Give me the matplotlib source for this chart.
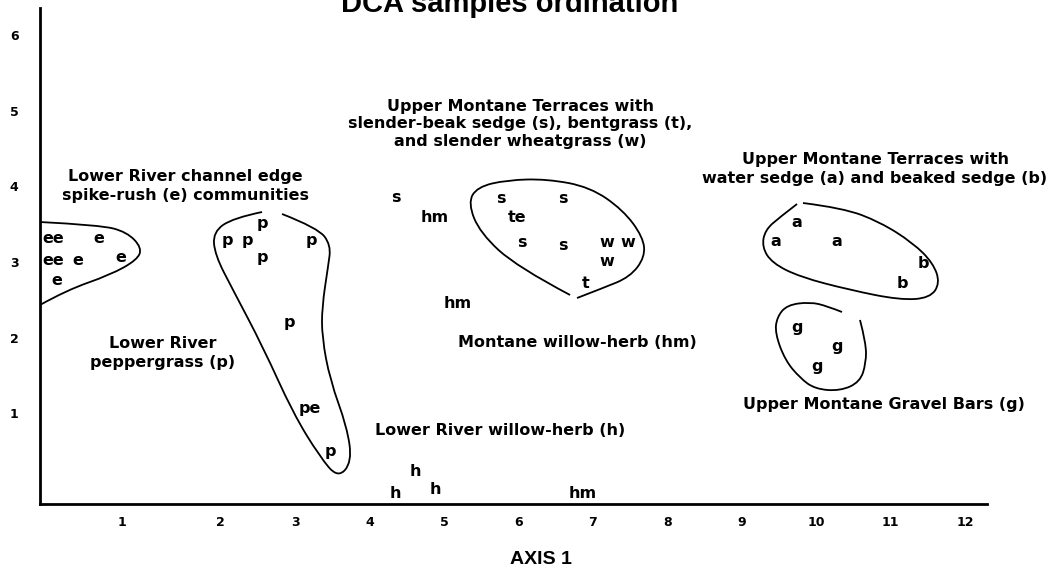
import matplotlib
matplotlib.use("Agg")
import matplotlib.pyplot as plt
from matplotlib.path import Path
from matplotlib.patches import PathPatch

# ---------------- data (axis units) ----------------
title = "DCA samples ordination"
x_label = "AXIS 1"
x_tick_pos = [0.67, 2, 3, 4, 5, 6, 7, 8, 9, 10, 11, 12]
x_tick_labels = ["1", "2", "3", "4", "5", "6", "7", "8", "9", "10", "11", "12"]
y_tick_pos = [1, 2, 3, 4, 5, 6]
y_tick_labels = ["1", "2", "3", "4", "5", "6"]

# sample codes and DCA scores
e_codes = ["ee", "e", "ee", "e", "e", "e"]
e_x = [-0.255, 0.363, -0.255, 0.081, 0.659, -0.202]
e_y = [3.303, 3.303, 3.025, 3.012, 3.052, 2.748]

p_codes = ["p", "p", "p", "p", "p", "p", "pe", "p"]
p_x = [2.554, 2.083, 2.352, 3.212, 2.554, 2.917, 3.199, 3.468]
p_y = [3.501, 3.289, 3.289, 3.289, 3.052, 2.193, 1.070, 0.502]

stw_codes = ["s", "hm", "s", "s", "te", "s", "s", "w", "w", "w", "t", "hm"]
stw_x = [4.355, 4.879, 5.766, 6.599, 5.981, 6.048, 6.599, 7.191, 7.473, 7.191, 6.909, 5.188]
stw_y = [3.857, 3.580, 3.844, 3.844, 3.580, 3.250, 3.223, 3.250, 3.250, 2.999, 2.721, 2.444]

ab_codes = ["a", "a", "a", "b", "b"]
ab_x = [9.745, 9.462, 10.282, 11.438, 11.156]
ab_y = [3.527, 3.263, 3.263, 2.985, 2.721]

g_codes = ["g", "g", "g"]
g_x = [9.745, 10.282, 10.013]
g_y = [2.127, 1.876, 1.612]

h_codes = ["h", "h", "h", "hm"]
h_x = [4.610, 4.341, 4.879, 6.868]
h_y = [0.225, -0.053, -0.013, -0.053]

# community outlines (hand-drawn hulls), axis units
e_hull_x = [-0.43, 0.376, 0.739, 0.941, 0.874, 0.511, -0.067, -0.43]
e_hull_y = [3.527, 3.487, 3.395, 3.184, 3.025, 2.827, 2.629, 2.431]

p_hull_x = [2.554, 2.164, 1.895, 1.922, 2.164, 2.567, 2.970, 3.333, 3.575, 3.763,
            3.696, 3.468, 3.360, 3.360, 3.441, 3.481, 3.306, 2.823]
p_hull_y = [3.659, 3.580, 3.395, 3.091, 2.629, 1.876, 1.004, 0.423, 0.145, 0.357,
            0.819, 1.440, 2.008, 2.404, 2.933, 3.223, 3.448, 3.633]

stw_hull_x = [6.694, 5.981, 5.484, 5.323, 5.444, 5.847, 6.384, 6.962, 7.406, 7.675,
              7.702, 7.500, 7.137, 6.788]
stw_hull_y = [2.563, 2.933, 3.382, 3.778, 3.989, 4.082, 4.095, 3.989, 3.686, 3.329,
              3.065, 2.801, 2.655, 2.523]

ab_hull_x = [9.745, 9.516, 9.315, 9.274, 9.409, 9.785, 10.457, 11.129, 11.532, 11.667,
             11.573, 11.304, 10.860, 10.363, 9.825]
ab_hull_y = [3.765, 3.593, 3.421, 3.197, 2.985, 2.801, 2.629, 2.497, 2.523, 2.721,
             2.985, 3.250, 3.527, 3.712, 3.778]

g_hull_x = [10.349, 10.148, 9.919, 9.610, 9.476, 9.449, 9.583, 9.785, 9.987, 10.323,
            10.591, 10.672, 10.672, 10.591]
g_hull_y = [2.338, 2.417, 2.470, 2.431, 2.272, 2.061, 1.704, 1.466, 1.321, 1.295,
            1.413, 1.664, 1.929, 2.233]

# community labels
group_labels = [
    "Lower River channel edge\nspike-rush (e) communities",
    "Lower River\npeppergrass (p)",
    "Upper Montane Terraces with\nslender-beak sedge (s), bentgrass (t),\nand slender wheatgrass (w)",
    "Upper Montane Terraces with\nwater sedge (a) and beaked sedge (b)",
    "Upper Montane Gravel Bars (g)",
    "Montane willow-herb (hm)",
    "Lower River willow-herb (h)",
]
group_label_x = [1.519, 1.223, 6.022, 10.793, 10.914, 5.188, 5.753]
group_label_y = [4.003, 1.797, 4.822, 4.227, 1.110, 1.929, 0.779]
group_label_ha = ["center", "center", "center", "center", "center", "left", "center"]
group_label_ls = [1.35, 1.3, 1.18, 1.35, 1.2, 1.2, 1.2]

# ---------------- drawing ----------------
FONT = "DejaVu Sans"
LBL_SIZE = 11.5

fig = plt.figure(figsize=(10.6, 5.74), dpi=100)
ax = fig.add_axes([40 / 1060, 1 - 504 / 574, (987 - 40) / 1060, (504 - 8) / 574])
ax.set_xlim(-0.43, 12.298)
ax.set_ylim(-0.198, 6.354)

for s in ["top", "right"]:
    ax.spines[s].set_visible(False)
for s in ["left", "bottom"]:
    ax.spines[s].set_linewidth(2.0)
    ax.spines[s].set_color("black")

ax.set_xticks(x_tick_pos)
ax.set_xticklabels(x_tick_labels, fontfamily=FONT, fontweight="bold", fontsize=9)
ax.set_yticks(y_tick_pos)
ax.set_yticklabels(y_tick_labels, fontfamily=FONT, fontweight="bold", fontsize=9,
                   ha="center")
ax.tick_params(axis="x", length=0, pad=9)
ax.tick_params(axis="y", length=0, pad=18.5)


def smooth_path(xs, ys):
    pts = list(zip(xs, ys))
    verts = [pts[0]]
    codes = [Path.MOVETO]
    for i in range(1, len(pts) - 2):
        mid = ((pts[i][0] + pts[i + 1][0]) / 2, (pts[i][1] + pts[i + 1][1]) / 2)
        verts += [pts[i], mid]
        codes += [Path.CURVE3, Path.CURVE3]
    verts += [pts[-2], pts[-1]]
    codes += [Path.CURVE3, Path.CURVE3]
    return Path(verts, codes)


for hx, hy in [(e_hull_x, e_hull_y), (p_hull_x, p_hull_y), (stw_hull_x, stw_hull_y),
               (ab_hull_x, ab_hull_y), (g_hull_x, g_hull_y)]:
    ax.add_patch(PathPatch(smooth_path(hx, hy), facecolor="none", edgecolor="black",
                           lw=1.3, clip_on=False))

for codes, xs, ys in [(e_codes, e_x, e_y), (p_codes, p_x, p_y), (stw_codes, stw_x, stw_y),
                      (ab_codes, ab_x, ab_y), (g_codes, g_x, g_y), (h_codes, h_x, h_y)]:
    for c, x, y in zip(codes, xs, ys):
        ax.text(x, y, c, ha="center", va="center", fontfamily=FONT,
                fontweight="bold", fontsize=LBL_SIZE)

for t, x, y, ha, ls in zip(group_labels, group_label_x, group_label_y,
                           group_label_ha, group_label_ls):
    ax.text(x, y, t, ha=ha, va="center", multialignment="center", fontfamily=FONT,
            fontweight="bold", fontsize=LBL_SIZE, linespacing=ls)

fig.text(510 / 1060, 1 - 12 / 574, title, ha="center", va="baseline",
         fontfamily="Liberation Sans", fontweight="bold", fontsize=21)
fig.text(541 / 1060, 1 - 559 / 574, x_label, ha="center", va="center",
         fontfamily="Liberation Sans", fontweight="bold", fontsize=14)

fig.savefig("out.png", dpi=100)
